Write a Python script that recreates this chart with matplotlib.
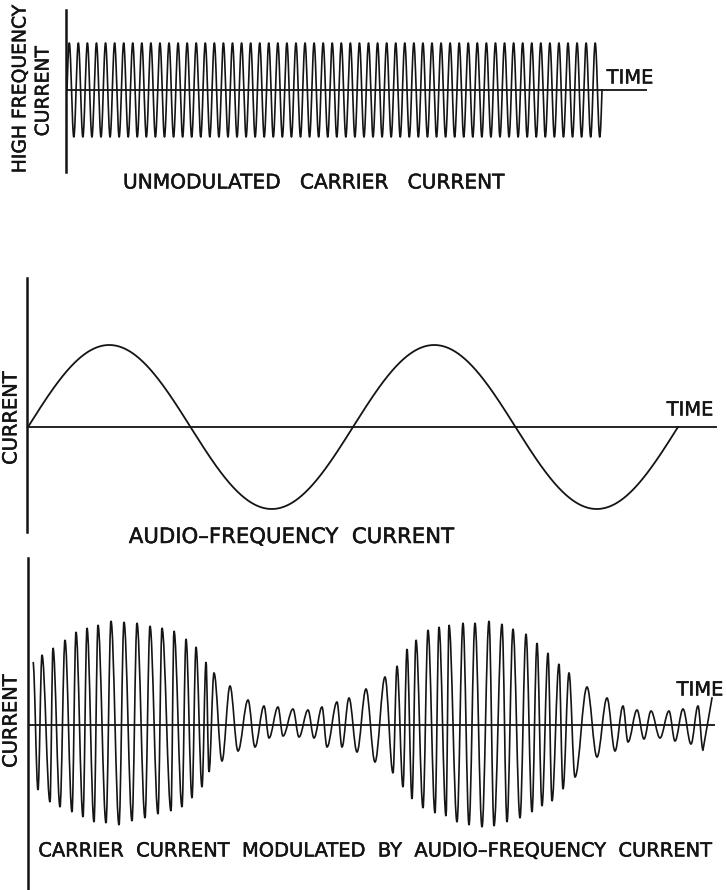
import numpy as np
import matplotlib
matplotlib.use('Agg')
import matplotlib.pyplot as plt
import matplotlib.patheffects as pe
from matplotlib.path import Path
from matplotlib.patches import PathPatch

W, H = 727, 890
INK = '#141414'
FONT = 'DejaVu Sans'

# time / current in arbitrary units

# unmodulated carrier
CARRIER_START = 1
CARRIER_END = 536
CARRIER_CYCLES = 59
CARRIER_AMPLITUDE = 47

# audio-frequency current
AUDIO_START = 1
AUDIO_END = 651
AUDIO_CYCLES = 2
AUDIO_AMPLITUDE = 82

# modulated carrier: successive peaks and troughs (time, current)
MOD_T = [5, 10, 14, 22, 25, 32, 37, 44, 48, 55, 59, 66, 70, 78, 83, 91,
         96, 104, 109, 117, 122, 130, 134, 143, 146, 154, 158, 164, 168, 174,
         178, 181, 186, 194, 202, 210, 220, 227, 236, 241, 250, 255, 265, 271,
         280, 286, 294, 299, 309, 314, 321, 329, 338, 347, 357, 365, 369, 375,
         379, 384, 388, 395, 400, 407, 411, 418, 421, 429, 435, 441, 447, 454,
         461, 466, 474, 479, 485, 492, 498, 504, 509, 514, 520, 524, 531, 535,
         541, 547, 559, 569, 579, 587, 595, 600, 609, 616, 623, 632, 641, 647,
         655, 663, 670, 675]
MOD_I = [63, -65, 70, -77, 77, -82, 85, -87, 93, -92, 97, -97, 100, -98, 104, -100,
         103, -96, 102, -93, 99, -89, 97, -86, 94, -82, 86, -73, 78, -62,
         63, -47, 52, -36, 39, -26, 25, -22, 19, -13, 18, -11, 16, -12,
         15, -13, 18, -22, 23, -22, 27, -27, 36, -37, 48, -48, 59, -62,
         76, -74, 85, -83, 95, -88, 98, -91, 100, -97, 102, -100, 102, -102,
         104, -101, 101, -97, 96, -93, 91, -87, 82, -81, 72, -76, 61, -64,
         52, -52, 38, -32, 27, -26, 19, -17, 15, -14, 14, -13, 14, -16,
         16, -19, 19, -25]
MOD_END_T = 684
MOD_END_I = 27

TEXT_TIME = 'TIME'
TEXT_TOP_Y = ['HIGH FREQUENCY', 'CURRENT']
TEXT_Y = 'CURRENT'
TEXT_TOP = 'UNMODULATED   CARRIER   CURRENT'
TEXT_MID = 'AUDIO–FREQUENCY  CURRENT'
TEXT_BOT = 'CARRIER  CURRENT  MODULATED  BY  AUDIO–FREQUENCY  CURRENT'


def panel(fig, left, top, right, bottom, ymax, ymin):
    # left/top/right/bottom in figure pixels, ylim in current units
    ax = fig.add_axes([left / W, 1 - bottom / H, (right - left) / W, (bottom - top) / H])
    ax.set_xlim(0, right - left)
    ax.set_ylim(ymin, ymax)
    for s in ['top', 'right', 'bottom']:
        ax.spines[s].set_visible(False)
    ax.spines['left'].set_linewidth(1.8)
    ax.spines['left'].set_color(INK)
    ax.set_xticks([])
    ax.set_yticks([])
    ax.patch.set_alpha(0)
    ax.axhline(0, color=INK, lw=1.3)
    return ax


def smooth_path(ts, cs, k=0.36):
    verts = [(ts[0], cs[0])]
    codes = [Path.MOVETO]
    for i in range(1, len(ts)):
        dt = ts[i] - ts[i - 1]
        verts += [(ts[i - 1] + k * dt, cs[i - 1]), (ts[i] - k * dt, cs[i]), (ts[i], cs[i])]
        codes += [Path.CURVE4] * 3
    return Path(verts, codes)


def txt(fig, x, y, s, size=14, **kw):
    fig.text(x / W, 1 - y / H, s, ha='center', va='center', color=INK,
             family=FONT, fontsize=size,
             path_effects=[pe.withStroke(linewidth=0.35, foreground=INK)], **kw)


def main():
    fig = plt.figure(figsize=(W / 100, H / 100), dpi=100)
    fig.patch.set_facecolor('white')

    # top: unmodulated carrier
    ax = panel(fig, 66, 10, 647, 172, 80, -82)
    t = np.linspace(CARRIER_START, CARRIER_END, 8000)
    phase = (t - CARRIER_START) / (CARRIER_END - CARRIER_START) * CARRIER_CYCLES
    ax.plot(t, CARRIER_AMPLITUDE * np.sin(2 * np.pi * phase), color=INK, lw=1.2)

    # middle: audio frequency
    ax = panel(fig, 27, 278, 717, 532, 149, -105)
    t = np.linspace(AUDIO_START, AUDIO_END, 2000)
    phase = (t - AUDIO_START) / (AUDIO_END - AUDIO_START) * AUDIO_CYCLES
    ax.plot(t, AUDIO_AMPLITUDE * np.sin(2 * np.pi * phase), color=INK, lw=1.3)

    # bottom: modulated carrier
    ax = panel(fig, 28, 558, 715, 890, 167, -165)
    ax.add_patch(PathPatch(smooth_path(MOD_T, MOD_I), fill=False, ec=INK, lw=1.2))
    ax.plot([MOD_T[-1], MOD_END_T], [MOD_I[-1], MOD_END_I], color=INK, lw=1.2)

    # lettering
    txt(fig, 20, 89, TEXT_TOP_Y[0], size=13.5, rotation=90)
    txt(fig, 43, 91, TEXT_TOP_Y[1], size=13.5, rotation=90)
    txt(fig, 630, 78, TEXT_TIME)
    txt(fig, 314, 183, TEXT_TOP, size=14.5)

    txt(fig, 11, 418, TEXT_Y, rotation=90)
    txt(fig, 690, 410, TEXT_TIME)
    txt(fig, 292, 537, TEXT_MID, size=15.3)

    txt(fig, 11, 721, TEXT_Y, rotation=90)
    txt(fig, 700, 690, TEXT_TIME)
    txt(fig, 376, 851, TEXT_BOT)

    fig.savefig('out.png', dpi=100, facecolor='white')


if __name__ == '__main__':
    main()
